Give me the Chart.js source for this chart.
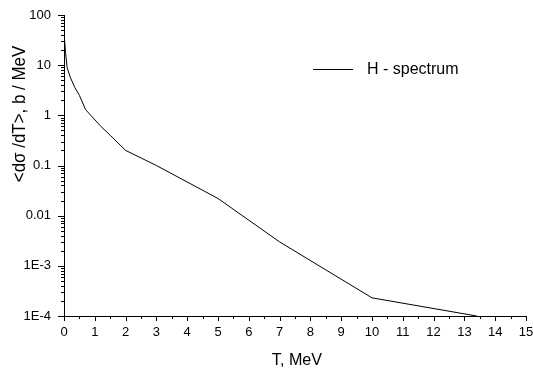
<!DOCTYPE html>
<html>
<head>
<meta charset="utf-8">
<script src="https://cdn.jsdelivr.net/npm/chart.js@4/dist/chart.umd.min.js"></script>
<style>
html,body{margin:0;padding:0;background:#fff;}
#wrap{width:533px;height:372px;}
</style>
</head>
<body>
<div id="wrap"><canvas id="c" width="533" height="372"></canvas></div>
<script>
const T = [0, 0.05, 0.1, 0.2, 0.35, 0.5, 0.7, 1.2, 1.5, 2, 3, 5, 7, 10, 13.4];
const sigma = [45, 18, 9, 5.8, 3.6, 2.5, 1.3, 0.6, 0.4, 0.2, 0.1, 0.022, 0.003, 2.3e-4, 1e-4];
const seriesLabel = 'H - spectrum';
const yTickValues = [1e-4, 1e-3, 1e-2, 0.1, 1, 10, 100];
const yTickLabels = ['1E-4', '1E-3', '0.01', '0.1', '1', '10', '100'];
const xTickValues = [0,1,2,3,4,5,6,7,8,9,10,11,12,13,14,15];
const xTitle = 'T, MeV';
const yTitle = '<dσ /dT>, b / MeV';

const FONT = '"Liberation Sans", Arial, sans-serif';

const tickPlugin = {
  id: 'tickPlugin',
  afterDraw(chart) {
    const ctx = chart.ctx;
    const xs = chart.scales.x, ys = chart.scales.y;
    const area = chart.chartArea;
    ctx.save();
    ctx.strokeStyle = '#000';
    ctx.lineWidth = 1;
    ctx.beginPath();
    const bottom = Math.round(area.bottom);
    const left = Math.round(area.left);
    for (let k = 0; k <= 30; k++) {
      const v = k * 0.5;
      const px = Math.round(xs.getPixelForValue(v)) + 0.5;
      const len = (k % 2 === 0) ? 5 : 3;
      ctx.moveTo(px, bottom);
      ctx.lineTo(px, bottom + len);
    }
    for (let d = -4; d <= 2; d++) {
      for (let m = 1; m <= 9; m++) {
        const val = m * Math.pow(10, d);
        if (val > 100.0001) continue;
        const py = Math.round(ys.getPixelForValue(val)) + 0.5;
        const len = m === 1 ? 6 : 3;
        ctx.moveTo(left, py);
        ctx.lineTo(left - len, py);
      }
    }
    ctx.stroke();
    // legend
    const lx0 = 313, lx1 = 353, ly = 69.5;
    ctx.beginPath();
    ctx.moveTo(lx0, ly);
    ctx.lineTo(lx1, ly);
    ctx.stroke();
    ctx.fillStyle = '#000';
    ctx.font = '16px ' + FONT;
    ctx.textBaseline = 'middle';
    ctx.textAlign = 'left';
    ctx.fillText(chart.data.datasets[0].label, 367, ly);
    // axis titles
    ctx.textAlign = 'center';
    ctx.textBaseline = 'alphabetic';
    ctx.save();
    ctx.translate(297, 365);
    ctx.scale(0.95, 1);
    ctx.font = '17px ' + FONT;
    ctx.fillText(xTitle, 0, 0);
    ctx.restore();
    ctx.translate(25, 114);
    ctx.rotate(-Math.PI / 2);
    ctx.scale(0.94, 1);
    ctx.font = '18px ' + FONT;
    ctx.fillText(yTitle, 0, 0);
    ctx.restore();
  }
};

new Chart(document.getElementById('c'), {
  type: 'line',
  data: {
    datasets: [{
      label: seriesLabel,
      data: T.map((t, i) => ({x: t, y: sigma[i]})),
      borderColor: '#000',
      borderWidth: 1,
      pointRadius: 0,
      tension: 0,
      fill: false
    }]
  },
  options: {
    responsive: false,
    animation: false,
    devicePixelRatio: 1,
    layout: { padding: { top: 15, right: 7, left: 0, bottom: 0 } },
    plugins: { legend: { display: false }, tooltip: { enabled: false } },
    scales: {
      x: {
        type: 'linear',
        min: 0, max: 15,
        afterBuildTicks(s) { s.ticks = xTickValues.map(v => ({value: v})); },
        afterFit(s) { s.height = 56; s.paddingLeft = 0; s.paddingRight = 0; },
        grid: { display: false, drawTicks: false },
        border: { display: true, color: '#000', width: 1 },
        ticks: { color: '#000', font: { family: FONT, size: 13 }, padding: 9, maxRotation: 0, autoSkip: false,
          callback: v => String(v) },
        title: { display: false }
      },
      y: {
        type: 'logarithmic',
        min: 1e-4, max: 100,
        afterBuildTicks(s) { s.ticks = yTickValues.map(v => ({value: v})); },
        afterFit(s) { s.width = 64; s.paddingTop = 0; s.paddingBottom = 0; },
        grid: { display: false, drawTicks: false },
        border: { display: true, color: '#000', width: 1 },
        ticks: { color: '#000', font: { family: FONT, size: 13 }, padding: 13, autoSkip: false,
          callback: (v) => { const i = yTickValues.findIndex(t => Math.abs(Math.log10(t) - Math.log10(v)) < 1e-6); return i >= 0 ? yTickLabels[i] : ''; } },
        title: { display: false }
      }
    }
  },
  plugins: [tickPlugin]
});
</script>
</body>
</html>
